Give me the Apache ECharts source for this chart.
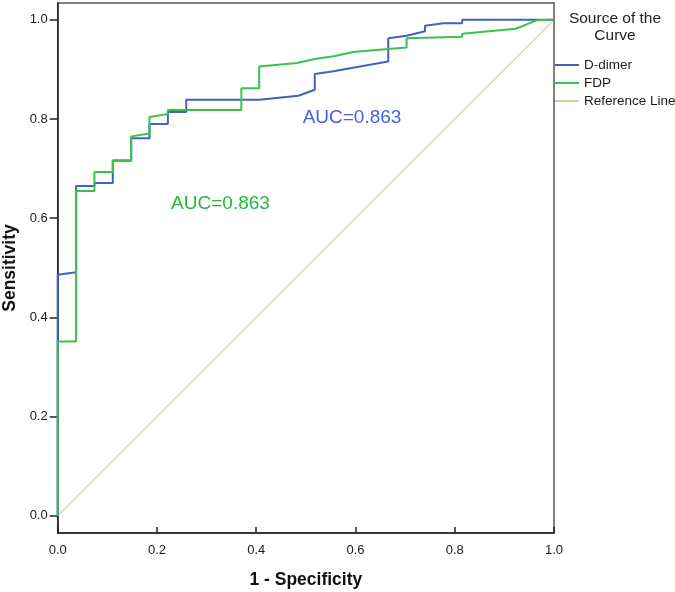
<!DOCTYPE html>
<html>
<head>
<meta charset="utf-8">
<script src="https://cdn.jsdelivr.net/npm/echarts@6/dist/echarts.min.js"></script>
<style>html,body{margin:0;padding:0;background:#fff}#c{width:675px;height:592px}</style>
</head>
<body>
<div id="c"></div>
<script>
// 1 - Specificity (x) and Sensitivity (y) for each curve
const ddimerX = [0, 0, 0.037, 0.037, 0.074, 0.074, 0.111, 0.111, 0.148, 0.148, 0.185, 0.185, 0.222, 0.222, 0.259, 0.259, 0.406, 0.406, 0.485, 0.518, 0.518, 0.559, 0.592, 0.592, 0.666, 0.666, 0.703, 0.740, 0.740, 0.777, 0.815, 0.815, 1.0];
const ddimerY = [0, 0.486, 0.491, 0.665, 0.665, 0.671, 0.671, 0.716, 0.716, 0.761, 0.761, 0.790, 0.790, 0.814, 0.814, 0.839, 0.839, 0.842, 0.847, 0.859, 0.891, 0.897, 0.903, 0.906, 0.916, 0.963, 0.968, 0.977, 0.988, 0.993, 0.993, 1.0, 1.0];
const fdpX = [0, 0, 0.037, 0.037, 0.074, 0.074, 0.111, 0.111, 0.148, 0.148, 0.185, 0.185, 0.222, 0.222, 0.370, 0.370, 0.406, 0.406, 0.482, 0.482, 0.518, 0.518, 0.559, 0.595, 0.666, 0.703, 0.703, 0.780, 0.815, 0.815, 0.923, 0.965, 1.0];
const fdpY = [0, 0.351, 0.351, 0.655, 0.655, 0.693, 0.693, 0.717, 0.717, 0.765, 0.771, 0.804, 0.810, 0.818, 0.818, 0.862, 0.862, 0.906, 0.913, 0.916, 0.921, 0.925, 0.927, 0.935, 0.941, 0.944, 0.963, 0.965, 0.966, 0.972, 0.982, 0.999, 1.0];
const refX = [0, 1];
const refY = [0, 1];
const tickValues = [0, 0.2, 0.4, 0.6, 0.8, 1.0];
const seriesNames = ['D-dimer', 'FDP', 'Reference Line'];
const aucLabels = [
  {text: 'AUC=0.863', x: 0.593, y: 0.802},
  {text: 'AUC=0.863', x: 0.328, y: 0.630}
];

const zip = (xs, ys) => xs.map((x, i) => [x, ys[i]]);
const FONT = 'Liberation Sans, Arial, sans-serif';
const colBlue = '#4262c2', colGreen = '#3cc24c', colRef = '#d8cc9c';
const lineIcon = 'path://M0 0H24V2H0Z';

const chart = echarts.init(document.getElementById('c'), null, {renderer: 'canvas'});
chart.setOption({
  backgroundColor: '#fff',
  animation: false,
  grid: {left: 57.7, right: 121, top: 3, bottom: 59, containLabel: false, outerBoundsMode: 'none',
         show: true, borderColor: '#555', borderWidth: 1.5, backgroundColor: 'transparent'},
  xAxis: {
    type: 'value', min: 0, max: 1, interval: 0.2,
    name: '1 - Specificity', nameLocation: 'middle', nameGap: 38,
    nameTextStyle: {fontFamily: FONT, fontWeight: 'bold', fontSize: 17.5, color: '#111'},
    axisLine: {show: true, onZero: false, lineStyle: {color: '#222', width: 1.5}},
    axisTick: {show: true, inside: true, length: 6, lineStyle: {color: '#222', width: 1.5}},
    axisLabel: {fontFamily: FONT, fontSize: 13, color: '#1a1a1a', margin: 11, formatter: v => v.toFixed(1)},
    splitLine: {show: false}
  },
  yAxis: {
    type: 'value', min: -0.035, max: 1.034,
    name: 'Sensitivity', nameLocation: 'middle', nameGap: 37,
    nameTextStyle: {fontFamily: FONT, fontWeight: 'bold', fontSize: 17.5, color: '#111'},
    axisLine: {show: true, onZero: false, lineStyle: {color: '#222', width: 1.5}},
    axisTick: {show: true, inside: false, length: 8, customValues: tickValues, lineStyle: {color: '#222', width: 1.5}},
    axisLabel: {fontFamily: FONT, fontSize: 13, color: '#1a1a1a', margin: 10, customValues: tickValues, formatter: v => v.toFixed(1)},
    splitLine: {show: false}
  },
  legend: {
    orient: 'vertical', left: 550, top: 53, itemWidth: 24, itemHeight: 14, itemGap: 4,
    data: seriesNames.map(n => ({name: n, icon: lineIcon})),
    textStyle: {fontFamily: FONT, fontSize: 13.5, color: '#1a1a1a'}
  },
  graphic: [{
    type: 'text', x: 615, y: 10,
    style: {text: 'Source of the\nCurve', textAlign: 'center', fontFamily: FONT, fontSize: 15.5, lineHeight: 17, fill: '#222'}
  }],
  series: [
    {name: seriesNames[0], type: 'line', data: zip(ddimerX, ddimerY), symbol: 'none', lineStyle: {color: colBlue, width: 2}, itemStyle: {color: colBlue}, z: 3,
     markPoint: {symbol: 'circle', symbolSize: 0, data: [{coord: [aucLabels[0].x, aucLabels[0].y], value: aucLabels[0].text}],
       label: {show: true, position: 'inside', formatter: aucLabels[0].text, fontFamily: FONT, fontSize: 19, color: '#4a5ee6'}}},
    {name: seriesNames[1], type: 'line', data: zip(fdpX, fdpY), symbol: 'none', lineStyle: {color: colGreen, width: 2}, itemStyle: {color: colGreen}, z: 4,
     markPoint: {symbol: 'circle', symbolSize: 0, data: [{coord: [aucLabels[1].x, aucLabels[1].y], value: aucLabels[1].text}],
       label: {show: true, position: 'inside', formatter: aucLabels[1].text, fontFamily: FONT, fontSize: 19, color: '#22b83a'}}},
    {name: seriesNames[2], type: 'line', data: zip(refX, refY), symbol: 'none', lineStyle: {color: colRef, width: 1.2}, itemStyle: {color: colRef}, z: 2}
  ]
});
</script>
</body>
</html>
